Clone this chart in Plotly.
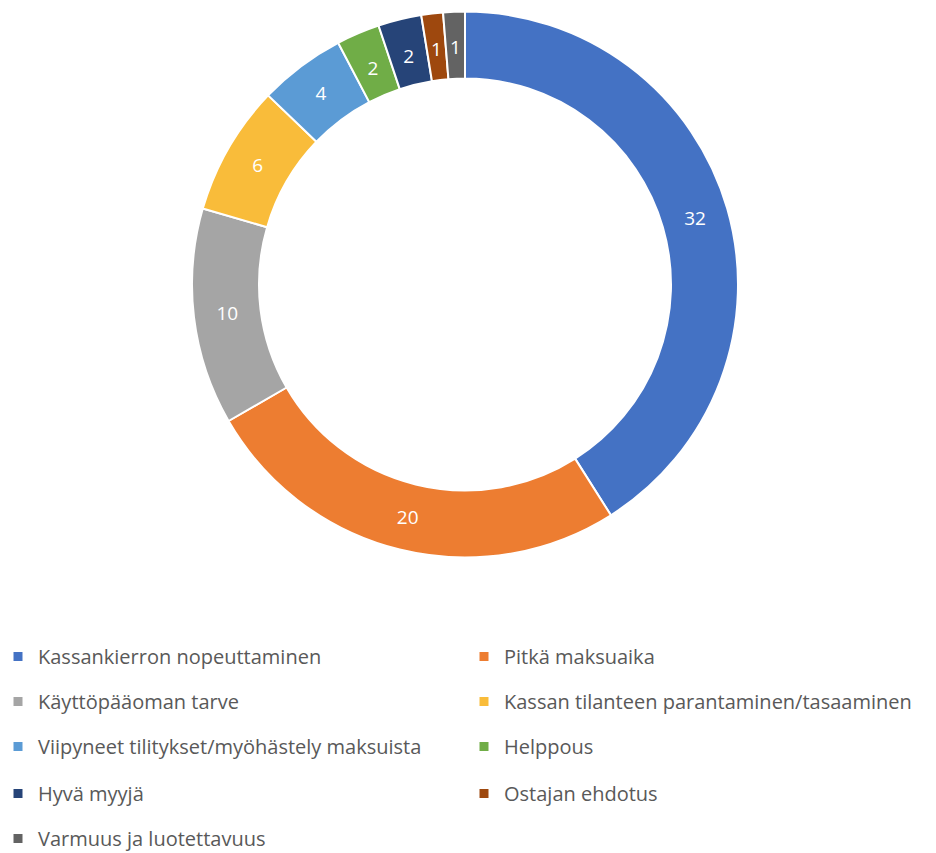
import plotly.graph_objects as go

labels = [
    "Kassankierron nopeuttaminen",
    "Pitkä maksuaika",
    "Käyttöpääoman tarve",
    "Kassan tilanteen parantaminen/tasaaminen",
    "Viipyneet tilitykset/myöhästely maksuista",
    "Helppous",
    "Hyvä myyjä",
    "Ostajan ehdotus",
    "Varmuus ja luotettavuus",
]
values = [32, 20, 10, 6, 4, 2, 2, 1, 1]
colors = ["#4472C4", "#ED7D31", "#A5A5A5", "#F9BC3A", "#5B9BD5",
          "#70AD47", "#264478", "#9E480E", "#636363"]

W, H = 936, 853
cx, cy, r = 465, 284.5, 273
inner = 206
small = 3  # thin slices get their labels from a narrower transparent text ring
text_ring = {2: 254, 1: 247}

def dom(rad):
    return dict(x=[(cx - rad) / W, (cx + rad) / W],
                y=[1 - (cy + rad) / H, 1 - (cy - rad) / H])

fig = go.Figure()
fig.add_trace(go.Pie(
    labels=labels, values=values, sort=False, direction="clockwise", rotation=0,
    hole=inner / r, marker=dict(colors=colors, line=dict(color="white", width=2)),
    text=[str(v) if v > small else "" for v in values],
    textinfo="text", textposition="inside", insidetextorientation="horizontal",
    textfont=dict(color="white", size=19, family="Open Sans"),
    domain=dom(r), showlegend=False, hoverinfo="label+value",
))
for sv, rt in text_ring.items():
    fig.add_trace(go.Pie(
        labels=labels, values=values, sort=False, direction="clockwise", rotation=0,
        hole=inner / rt,
        marker=dict(colors=["rgba(0,0,0,0)"] * len(values), line=dict(width=0)),
        text=[str(v) if v == sv else "" for v in values],
        textinfo="text", textposition="inside", insidetextorientation="horizontal",
        textfont=dict(color="white", size=19, family="Open Sans"),
        domain=dom(rt), showlegend=False, hoverinfo="skip",
    ))

# legend: two columns, five rows
row_y = [656.5, 701.5, 746.5, 793.5, 838.5]
col_x = [-2, 464]
layout_legends = {}
for i, (lab, col) in enumerate(zip(labels, colors)):
    key = "legend" if i == 0 else f"legend{i+1}"
    fig.add_trace(go.Scatter(
        x=[None], y=[None], mode="markers", name=lab,
        marker=dict(symbol="square", size=9, color=col),
        legend=key, showlegend=True,
    ))
    layout_legends[key] = dict(
        x=col_x[i % 2] / W, xanchor="left",
        y=1 - row_y[i // 2] / H, yanchor="middle",
        orientation="h", itemwidth=30,
        bgcolor="rgba(0,0,0,0)",
        font=dict(family="Open Sans", size=20, color="#595959"),
    )

fig.update_layout(
    width=W, height=H, margin=dict(l=0, r=0, t=0, b=0, autoexpand=False),
    paper_bgcolor="white", plot_bgcolor="white",
    xaxis=dict(visible=False), yaxis=dict(visible=False),
    uniformtext=dict(minsize=19, mode="show"),
    **layout_legends,
)
fig.write_html("out.html")
